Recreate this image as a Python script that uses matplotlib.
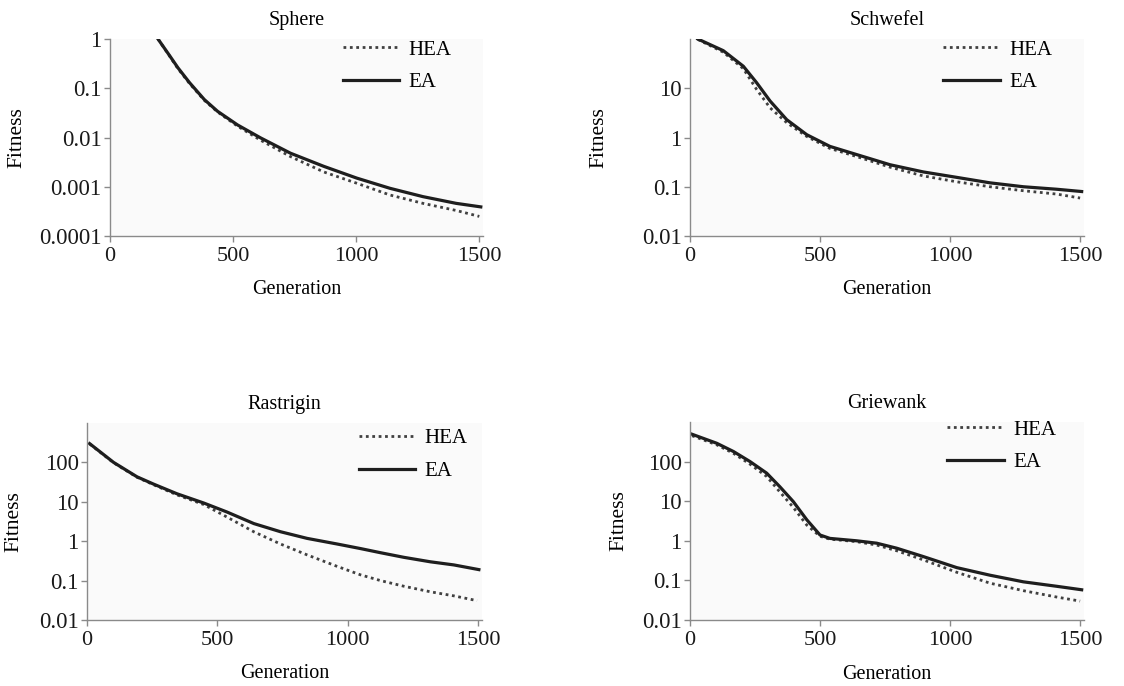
import numpy as np
import matplotlib.pyplot as plt
from matplotlib.ticker import FixedLocator, FixedFormatter, NullLocator

plt.rcParams['font.family'] = ['Liberation Serif', 'DejaVu Serif']

# Sphere
sphere_ea_gen = [195, 242, 276, 323, 383, 437, 518, 612, 733, 868, 1002, 1137, 1271, 1406, 1506]
sphere_ea_fit = [1.0, 0.46, 0.26, 0.13, 0.059, 0.034, 0.018, 0.0098, 0.0048, 0.0026, 0.0015,
                 0.00093, 0.00063, 0.00046, 0.00039]
sphere_hea_gen = [195, 242, 276, 323, 383, 437, 518, 612, 733, 868, 1002, 1137, 1271, 1406, 1500]
sphere_hea_fit = [1.0, 0.45, 0.25, 0.125, 0.057, 0.033, 0.017, 0.0088, 0.0041, 0.0020, 0.00118,
                  0.00068, 0.00046, 0.00033, 0.00025]

# Schwefel
schwefel_ea_gen = [30, 128, 205, 256, 308, 372, 449, 538, 641, 769, 897, 1026, 1154, 1282, 1410, 1506]
schwefel_ea_fit = [100, 58, 28, 13, 5.5, 2.3, 1.14, 0.66, 0.45, 0.28, 0.20, 0.155, 0.12, 0.10, 0.089, 0.080]
schwefel_hea_gen = [30, 128, 205, 256, 308, 372, 449, 538, 641, 769, 897, 1026, 1154, 1282, 1410, 1500]
schwefel_hea_fit = [98, 54, 25, 9.5, 4.0, 2.0, 1.05, 0.60, 0.41, 0.25, 0.166, 0.126, 0.10, 0.083, 0.071, 0.059]

# Rastrigin
rastrigin_ea_gen = [10, 102, 192, 256, 345, 448, 537, 640, 742, 844, 959, 1049, 1126, 1215, 1317, 1407, 1503]
rastrigin_ea_fit = [300, 100, 43, 28, 16, 9.3, 5.5, 2.8, 1.74, 1.18, 0.85, 0.65, 0.51, 0.39, 0.30, 0.25, 0.19]
rastrigin_hea_gen = [10, 102, 192, 256, 345, 448, 537, 640, 742, 844, 959, 1049, 1126, 1215, 1317, 1407, 1496]
rastrigin_hea_fit = [295, 98, 42, 27, 15, 8.5, 4.1, 1.73, 0.85, 0.45, 0.23, 0.14, 0.10, 0.072, 0.052, 0.041, 0.031]

# Griewank
griewank_ea_gen = [8, 103, 167, 231, 295, 346, 397, 449, 500, 538, 641, 718, 795, 897, 1026, 1154, 1282, 1410, 1506]
griewank_ea_fit = [490, 290, 180, 100, 51, 23, 9.8, 3.4, 1.4, 1.15, 1.0, 0.87, 0.65, 0.40, 0.21, 0.135,
                   0.092, 0.071, 0.058]
griewank_hea_gen = [8, 103, 167, 231, 295, 346, 397, 449, 500, 538, 641, 718, 795, 897, 1026, 1154, 1282, 1410, 1500]
griewank_hea_fit = [450, 265, 162, 86, 42, 17, 7.0, 2.5, 1.3, 1.1, 0.95, 0.78, 0.56, 0.33, 0.16, 0.085,
                    0.055, 0.038, 0.030]

panels = [
    ("Sphere", sphere_hea_gen, sphere_hea_fit, sphere_ea_gen, sphere_ea_fit,
     (1e-4, 1), [1e-4, 1e-3, 1e-2, 1e-1, 1], ["0.0001", "0.001", "0.01", "0.1", "1"]),
    ("Schwefel", schwefel_hea_gen, schwefel_hea_fit, schwefel_ea_gen, schwefel_ea_fit,
     (1e-2, 100), [1e-2, 1e-1, 1, 10], ["0.01", "0.1", "1", "10"]),
    ("Rastrigin", rastrigin_hea_gen, rastrigin_hea_fit, rastrigin_ea_gen, rastrigin_ea_fit,
     (1e-2, 1000), [1e-2, 1e-1, 1, 10, 100], ["0.01", "0.1", "1", "10", "100"]),
    ("Griewank", griewank_hea_gen, griewank_hea_fit, griewank_ea_gen, griewank_ea_fit,
     (1e-2, 1000), [1e-2, 1e-1, 1, 10, 100], ["0.01", "0.1", "1", "10", "100"]),
]

W, H = 1124, 686
# axes boxes in pixels: left, top, right, bottom
boxes = [(110, 39, 483, 236), (690, 39, 1084, 236), (87, 423, 482, 620), (690, 422, 1084, 620)]
ylabel_x = [-0.225, -0.208, -0.16, -0.155]
leg_anchor = [(0.624, 0.994), (0.643, 0.994), (0.688, 0.97), (0.653, 1.01)]

fig = plt.figure(figsize=(W / 100, H / 100), dpi=100)
fs = 14.5
gray = "#8a8a8a"

for i, (name, hg, hf, eg, ef, ylim, yt, ytl) in enumerate(panels):
    l, t, r, b = boxes[i]
    ax = fig.add_axes([l / W, 1 - b / H, (r - l) / W, (b - t) / H])
    ax.set_facecolor("#fafafa")
    ax.plot(hg, hf, color="#404040", lw=2.0, linestyle=(0, (1, 1.3)), label="HEA")
    ax.plot(eg, ef, color="#1e1e1e", lw=2.3, label="EA")
    ax.set_yscale("log")
    ax.set_ylim(*ylim)
    ax.set_xlim(0, 1515)
    ax.yaxis.set_major_locator(FixedLocator(yt))
    ax.yaxis.set_major_formatter(FixedFormatter(ytl))
    ax.yaxis.set_minor_locator(NullLocator())
    ax.set_xticks([0, 500, 1000, 1500])
    ax.set_xticklabels(["0", "500", "1000", "1500"])
    for s in ["top", "right"]:
        ax.spines[s].set_visible(False)
    for s in ["left", "bottom"]:
        ax.spines[s].set_color(gray)
        ax.spines[s].set_linewidth(1.0)
    ax.tick_params(axis="both", colors=gray, labelcolor="#1a1a1a", width=1.0)
    ax.tick_params(axis="y", length=4, pad=2, labelsize=16.5)
    ax.tick_params(axis="x", length=4, pad=4, labelsize=16)
    ax.set_title(name, fontsize=fs, pad=10)
    ax.set_xlabel("Generation", fontsize=fs)
    ax.set_ylabel("Fitness", fontsize=15.5)
    ax.xaxis.set_label_coords(0.5, -0.225)
    ax.yaxis.set_label_coords(ylabel_x[i], 0.5)
    ax.legend(loc="upper left", bbox_to_anchor=leg_anchor[i], frameon=False, fontsize=15,
              handlelength=2.7, handletextpad=0.45, labelspacing=0.62, borderpad=0, borderaxespad=0)

fig.savefig("out.png", dpi=100)
